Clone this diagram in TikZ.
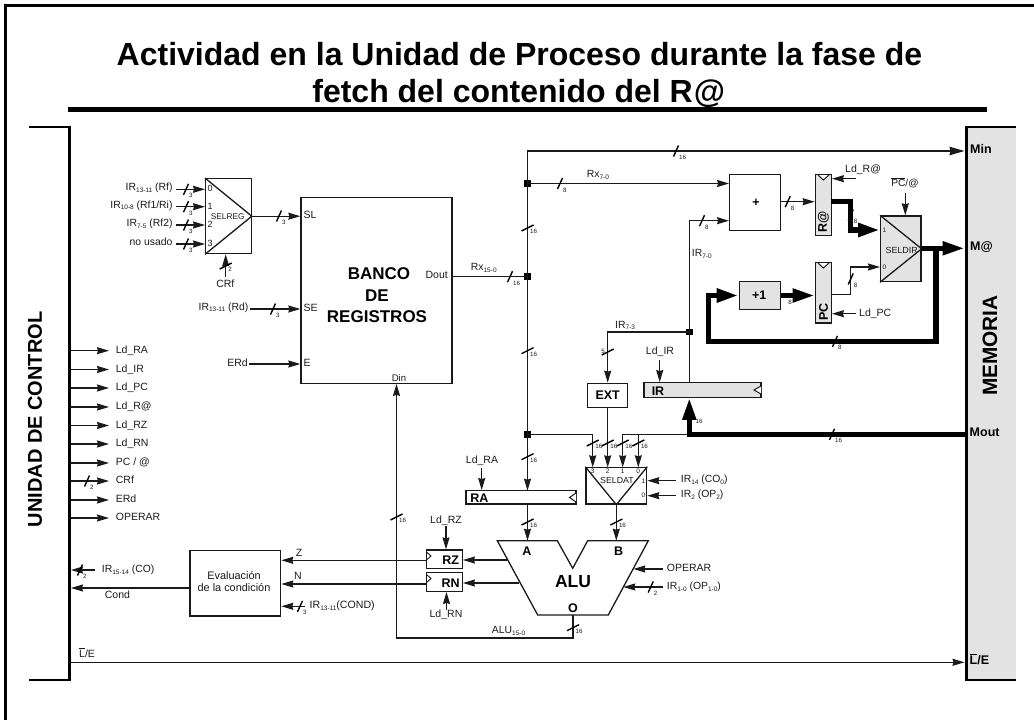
\documentclass[tikz,border=0pt]{standalone}
\usepackage{fontspec}
\setmainfont{Liberation Sans}
\usetikzlibrary{arrows.meta}
\newcommand{\fs}[1]{\fontsize{#1}{#1}\selectfont}
\newcommand{\subx}[1]{\raisebox{-1.6pt}{\fontsize{6.5}{6.5}\selectfont #1}}
\newcommand{\ovl}[1]{\setbox0\hbox{#1}\rlap{\raisebox{\dimexpr\ht0+1.2pt}{\rule{\wd0}{1pt}}}\box0}
\definecolor{ink}{HTML}{1A1A1A}
\definecolor{panel}{HTML}{E3E3E3}
\newcounter{slc}
\newcommand{\slashH}[3]{\stepcounter{slc}%
  \draw[slsh] ([shift={(-2.5,5.5)}]#1,#2) -- ([shift={(2.5,-5.5)}]#1,#2);
  \node[slab,anchor=mid west] (slab\theslc) at ([shift={(3,6)}]#1,#2) {#3};}
\newcommand{\slashV}[3]{\stepcounter{slc}%
  \draw[slsh] ([shift={(-6,3)}]#1,#2) -- ([shift={(6,-3)}]#1,#2);
  \node[slab,anchor=mid west] (slab\theslc) at ([shift={(2.5,3)}]#1,#2) {#3};}
\tikzset{
  sig/.style={draw=ink,line width=1.2pt,-{Stealth[length=12pt,width=7pt,inset=1pt]}},
  wire/.style={draw=ink,line width=1.2pt},
  fat/.style={draw=black,line width=5pt,line join=miter},
  fata/.style={draw=black,line width=5pt,line join=miter,-{Triangle[length=22pt,width=13pt]}},
  slsh/.style={draw=black,line width=1.4pt},
  slab/.style={inner sep=0pt,font=\fs{6.2},text=ink},
  lab/.style={inner sep=0pt,font=\fs{10.5},text=ink},
  blab/.style={inner sep=0pt,font=\bfseries\fs{12.5},text=black},
  tiny/.style={inner sep=0pt,font=\fs{7},text=ink},
  box/.style={draw=ink,line width=1.3pt,inner sep=0pt,fill=white},
  gbox/.style={box,fill=panel},
  dot/.style={fill=black,inner sep=0pt,minimum size=6.5pt},
  notch/.style={draw=ink,line width=1pt,fill=white},
}
\begin{document}
\begin{tikzpicture}[x=1pt,y=-1pt]
\useasboundingbox (0,0) rectangle (1034,720);
% frame
\coordinate (fa) at (5.5,720); \coordinate (fb) at (5.5,5.5); \coordinate (fc) at (1034,5.5);
\draw[black,line width=2.6pt] (fa) -- (fb) -- (fc);
% title
\node[inner sep=0pt,anchor=base,font=\bfseries\fs{32},text=black] (t1) at (519.5,65) {Actividad en la Unidad de Proceso durante la fase de};
\node[inner sep=0pt,anchor=base,font=\bfseries\fs{32},text=black] (t2) at (518.7,102.5) {fetch del contenido del R\kern1pt@};
\coordinate (ra) at (68,109); \coordinate (rb) at (987,109);
\draw[black,line width=5pt] (ra) -- (rb);
% side panels
\coordinate (ua) at (29,127); \coordinate (ub) at (69.7,127); \coordinate (uc) at (69.7,680); \coordinate (ud) at (29,680);
\draw[black,line width=2.8pt] (ua) -- (ub) -- (uc) -- (ud);
\node[inner sep=0pt,rotate=90,font=\bfseries\fs{20},text=black] (ucl) at (35,419.5) {UNIDAD DE CONTROL};
\coordinate (ma) at (1016,127); \coordinate (mb) at (966.5,127); \coordinate (mc) at (966.5,680); \coordinate (md) at (1016,680);
\fill[panel] (ma) -- (mb) -- (mc) -- (md) -- cycle;
\draw[black,line width=2.6pt] (ma) -- (mb) -- (mc) -- (md);
\node[inner sep=0pt,rotate=90,font=\bfseries\fs{20.8},text=black] (mem) at (990,345.5) {MEMORIA};
\node[blab,anchor=mid west] (lmin) at (970,151) {Min};
\node[blab,anchor=mid west] (lma) at (970,248.3) {M@};
\node[blab,anchor=mid west] (lmo) at (969.5,433.5) {Mout};
\node[blab,anchor=mid west] (lle) at (969.5,662) {\ovl{L}/E};
% left signal list
\foreach \n/\t/\y in {a/{Ld\_RA}/350.7,b/{Ld\_IR}/369.5,c/{Ld\_PC}/388,d/{Ld\_R@}/407,e/{Ld\_RZ}/425.5,f/{Ld\_RN}/444,g/{PC / @}/463,h/{CRf}/481,i/{ERd}/500,j/{OPERAR}/518}{
  \coordinate (s\n) at (71,\y); \coordinate (e\n) at (109,\y);
  \draw[sig] (s\n) -- (e\n);
  \node[lab,anchor=mid west] (l\n) at (115.7,\y) {\t};
}
\slashH{87}{481}{2}
% SELREG
\node[box,minimum width=45.5pt,minimum height=75pt] (selreg) at (228.4,216.2) {};
\draw[ink,line width=1.3pt] (selreg.north west) -- (selreg.east) -- (selreg.south west);
\node[tiny,font=\fs{8.3}] (lselreg) at (227.7,216.7) {SELREG};
\foreach \n/\y/\t in {0/189.3/{IR\subx{13-11} (Rf)},1/206.7/{IR\subx{10-8} (Rf1/Ri)},2/225/{IR\subx{7-5} (Rf2)},3/244/{no usado}}{
  \coordinate (in\n) at (176,\y);
  \draw[sig] (in\n) -- (in\n -| selreg.west);
  \node[lab,anchor=mid east,font=\fs{10.4}] (lin\n) at (172.7,\y-1) {\t};
  \node[tiny,font=\fs{9},anchor=mid west] (num\n) at (207.5,\y) {\n};
  \slashH{186}{\y}{3}
}
\coordinate (crf) at (225.7,277);
\draw[sig] (crf) -- (crf |- selreg.south);
\slashV{225.7}{266}{2}
\node[lab] (lcrf) at (225.3,284) {CRf};
% Banco
\node[box,minimum width=151pt,minimum height=185.5pt] (banco) at (376.5,290.5) {};
\node[inner sep=0pt,font=\bfseries\fs{17},text=black] (b1) at (379,274) {BANCO};
\node[inner sep=0pt,font=\bfseries\fs{17},text=black] (b2) at (377,295.5) {DE};
\node[inner sep=0pt,font=\bfseries\fs{17},text=black] (b3) at (377,316.7) {REGISTROS};
\node[lab,anchor=mid west] (lsl) at (303.5,216) {SL};
\node[lab,anchor=mid west] (lse) at (303.5,308.5) {SE};
\node[lab,anchor=mid west] (le) at (303.5,364) {E};
\node[lab,font=\fs{9.6}] (ldin) at (399,378) {Din};
\node[lab,anchor=mid east] (ldout) at (448,276) {Dout};
\draw[sig] (selreg.east) -- (selreg.east -| banco.west);
\slashH{279}{216}{3}
\coordinate (ird) at (250,309);
\draw[sig] (ird) -- (ird -| banco.west);
\slashH{273}{309}{3}
\node[lab,anchor=mid east,font=\fs{10.4}] (lird) at (248.5,307.5) {IR\subx{13-11} (Rd)};
\coordinate (erd) at (248.5,364);
\draw[sig] (erd) -- (erd -| banco.west);
\node[lab,anchor=mid east] (lerd) at (248,364) {ERd};
% bus
\node[dot] (j1) at (527.5,183.5) {};
\node[dot] (j2) at (527.5,276.7) {};
\node[dot] (j3) at (527.5,434.3) {};
\coordinate (minc) at (527.5,151); \coordinate (mine) at (964.5,151);
\coordinate (dout) at (452,276.7);
\draw[wire] (dout) -- (j2.center);
\slashH{510}{276.7}{16}
\node[lab,anchor=mid west,font=\fs{10.4}] (lrx) at (470.7,268) {Rx\subx{15-0}};
\draw[draw=ink,line width=1.2pt,-{Stealth[length=15pt,width=8.5pt,inset=1pt]}] (j3.center) -- (j2.center) -- (j1.center) -- (minc) -- (mine);
\slashH{676}{151}{16}
\slashV{527.5}{228}{16}
\slashV{527.5}{350.7}{16}
% adder
\node[box,minimum width=51pt,minimum height=56pt] (add) at (755.2,202.2) {};
\node[blab] (ladd) at (756,203) {+};
\coordinate (rx7) at (729.5,183.5);
\draw[sig] (j1.center) -- (rx7 -| add.west);
\slashH{560}{183.5}{8}
\node[lab,anchor=mid west,font=\fs{10.4}] (lrx7) at (586.7,175) {Rx\subx{7-0}};
% IR
\node[gbox,minimum width=117pt,minimum height=14.6pt] (ir) at (702.5,390) {};
\node[blab] (lir) at (658,390.7) {IR};
\coordinate (n1) at (761,386); \coordinate (n2) at (754,390); \coordinate (n3) at (761,394);
\draw[notch] (n1) -- (n2) -- (n3);
\node[dot] (j4) at (689.3,332) {};
\coordinate (irup) at (689.3,220.7);
\coordinate (irbot) at (689.3,382.7);
\draw[sig] (irbot) -- (j4.center) -- (irup) -- (irup -| add.west);
\slashH{702}{220.7}{8}
\node[lab,anchor=mid west,font=\fs{10.4}] (lir70) at (691.7,254) {IR\subx{7-0}};
\coordinate (cldir) at (659.7,360);
\draw[sig] (cldir) -- (cldir |- ir.north);
\node[lab] (lldir) at (660,352) {Ld\_IR};
% EXT
\node[box,minimum width=40pt,minimum height=24pt] (ext) at (607.7,395.3) {};
\node[blab] (lext) at (607.7,395.5) {EXT};
\coordinate (c73) at (607.7,332);
\draw[sig] (j4.center) -- (c73) -- (ext.north);
\node[lab,anchor=mid west,font=\fs{10.4}] (lir73) at (615,325.5) {IR\subx{7-3}};
\slashV{607.7}{352}{}
\node[slab] (l5) at (603,351) {5};
% RA
\node[box,minimum width=110pt,minimum height=13.4pt] (rareg) at (521,497.4) {};
\node[blab] (lra) at (479.3,498) {RA};
\coordinate (m1) at (576,493); \coordinate (m2) at (569.5,497.5); \coordinate (m3) at (576,502);
\draw[notch] (m1) -- (m2) -- (m3);
\coordinate (clra) at (481.7,468);
\draw[sig] (clra) -- (clra |- rareg.north);
\node[lab] (llra) at (482,461) {Ld\_RA};
\coordinate (rain) at (527.5,490.7);
\draw[sig] (j3.center) -- (rain);
\slashV{527.5}{456.7}{16}
% SELDAT
\node[box,minimum width=60.7pt,minimum height=36.7pt] (seldat) at (616.3,485.7) {};
\draw[ink,line width=1.3pt] (seldat.north west) -- (seldat.south) -- (seldat.north east);
\node[tiny,font=\fs{8.8}] (lseldat) at (617,480) {SELDAT};
\coordinate (d3t) at (592.7,434.3); \coordinate (d3b) at (592.7,467.3);
\coordinate (d1t) at (622.7,434.3); \coordinate (d1b) at (622.7,467.3);
\coordinate (d0t) at (638.3,434.3); \coordinate (d0b) at (638.3,467.3);
\coordinate (d2b) at (607.7,467.3);
\draw[sig] (j3.center) -- (d3t) -- (d3b);
\draw[sig] (ext.south) -- (d2b);
\draw[sig] (d1t) -- (d1b);
\draw[sig] (d0t) -- (d0b);
\foreach \x in {592.7,607.7,622.7,638.3}{\slashV{\x}{443}{16}}
\foreach \n/\x in {3/592.7,2/607.7,1/622.7,0/638.3}{\node[slab,font=\fs{6.5}] (sd\n) at (\x,471) {\n};}
\node[slab,font=\fs{6.5}] (sd1r) at (643.5,481) {1};
\node[slab,font=\fs{6.5}] (sd0r) at (643.5,495.7) {0};
\coordinate (co) at (675.7,480.7); \coordinate (op2) at (675.7,495.7);
\draw[sig] (co) -- (co -| seldat.east);
\draw[sig] (op2) -- (op2 -| seldat.east);
\node[lab,anchor=mid west,font=\fs{10.4}] (lco) at (680.7,480) {IR\subx{14} (CO\subx{0})};
\node[lab,anchor=mid west,font=\fs{10.4}] (lop) at (680.7,495) {IR\subx{2} (OP\subx{2})};
% Mout
\coordinate (mo) at (964.5,434.3); \coordinate (mc1) at (689.3,434.3);
\draw[wire] (mc1) -- (d1t);
\draw[fata] (mo) -- (mc1) -- (mc1 |- ir.south);
\slashH{832}{434.3}{16}
\node[slab] (l16b) at (699,421) {16};
% ALU
\coordinate (a1) at (497.3,540.7); \coordinate (a2) at (557.3,540.7); \coordinate (a3) at (572.7,568.3);
\coordinate (a4) at (587.7,540.7); \coordinate (a5) at (648.3,540.7); \coordinate (a6) at (608.3,615);
\coordinate (a7) at (537.7,615);
\draw[ink,line width=1.3pt,line join=miter] (a1) -- (a2) -- (a3) -- (a4) -- (a5) -- (a6) -- (a7) -- cycle;
\node[blab] (la) at (527,550.7) {A};
\node[blab] (lb) at (618.7,550.7) {B};
\node[inner sep=0pt,font=\bfseries\fs{17.5},text=black] (lalu) at (573,582) {ALU};
\node[blab] (lo) at (573,607.7) {O};
\coordinate (atop) at (527.5,540.7); \coordinate (btop) at (616.3,540.7);
\draw[sig] (rareg.south -| atop) -- (atop);
\draw[sig] (seldat.south) -- (btop);
\slashV{527.5}{522}{16}
\slashV{616.3}{522}{16}
% RZ RN
\node[box,minimum width=35.6pt,minimum height=18.3pt] (rz) at (444.5,559.2) {};
\node[box,minimum width=35.6pt,minimum height=18.6pt] (rn) at (444.5,582) {};
\node[blab] (lrz) at (450.7,560.3) {RZ};
\node[blab] (lrn) at (450.7,582.7) {RN};
\coordinate (z1) at (427,552.5); \coordinate (z2) at (431,556); \coordinate (z3) at (427,559.5);
\coordinate (y1) at (427,575); \coordinate (y2) at (431,578.5); \coordinate (y3) at (427,582);
\draw[ink,line width=.9pt] (z1) -- (z2) -- (z3);
\draw[ink,line width=.9pt] (y1) -- (y2) -- (y3);
\coordinate (az) at (506.7,560); \coordinate (an) at (519.3,583);
\draw[sig] (az) -- (az -| rz.east);
\draw[sig] (an) -- (an -| rn.east);
\coordinate (clz) at (446,526); \coordinate (cln) at (446.5,610);
\draw[sig] (clz) -- (clz |- rz.north);
\draw[sig] (cln) -- (cln |- rn.south);
\node[lab] (llrz) at (446,521) {Ld\_RZ};
\node[lab] (llrn) at (446,614.5) {Ld\_RN};
% operar
\coordinate (opin) at (662.7,569); \coordinate (opend) at (633.3,569);
\coordinate (oin) at (663,587); \coordinate (oend) at (623.3,587);
\draw[sig] (opin) -- (opend);
\draw[sig] (oin) -- (oend);
\slashH{650.7}{587}{2}
\node[lab,anchor=mid west] (lop1) at (666.7,569) {OPERAR};
\node[lab,anchor=mid west,font=\fs{10.4}] (lop2) at (666.7,587) {IR\subx{1-0} (OP\subx{1-0})};
% ALU output to Din
\coordinate (ob) at (573,615); \coordinate (oc) at (573,638); \coordinate (od) at (396.5,638);
\draw[sig] (ob) -- (oc) -- (od) -- (od |- banco.south);
\slashV{573}{627.7}{16}
\node[lab,anchor=mid west,font=\fs{10.4}] (lalu2) at (491.7,631) {ALU\subx{15-0}};
\slashV{396.5}{517}{16}
% Evaluacion
\node[box,minimum width=90.7pt,minimum height=65.7pt] (ev) at (235.3,583.2) {};
\node[lab,font=\fs{10.9}] (lev1) at (234,576) {Evaluación};
\node[lab,font=\fs{10.9}] (lev2) at (234,588) {de la condición};
\coordinate (rzl) at (426.7,560.3); \coordinate (rnl) at (426.7,584);
\draw[sig] (rzl) -- (rzl -| ev.east);
\draw[sig] (rnl) -- (rnl -| ev.east);
\node[lab] (lz) at (299,553) {Z};
\node[lab] (ln) at (298,576) {N};
\coordinate (cnd) at (305,606.3);
\draw[sig] (cnd) -- (cnd -| ev.east);
\slashH{300}{606.3}{3}
\node[lab,anchor=mid west,font=\fs{10.6}] (lcnd) at (309.5,606) {IR\subx{13-11}(COND)};
\coordinate (cout) at (71,588);
\draw[sig] (cout -| ev.west) -- (cout);
\node[lab,anchor=mid west] (lcond) at (104.7,595.5) {Cond};
\coordinate (co1) at (95,570); \coordinate (co2) at (71,570);
\draw[sig] (co1) -- (co2);
\slashH{80}{570}{2}
\node[lab,anchor=mid west,font=\fs{10.4}] (lco1) at (101.7,570) {IR\subx{15-14} (CO)};
% L/E
\coordinate (le1) at (71,662.3); \coordinate (le2) at (964.5,662.3);
\draw[sig] (le1) -- (le2);
\node[lab,anchor=mid west] (lle2) at (79,655) {\ovl{L}/E};
% R@
\node[gbox,minimum width=16pt,minimum height=61pt] (rat) at (823.3,204.8) {};
\node[blab,rotate=90] (lrat) at (823.5,222) {R@};
\coordinate (q1) at (818,175); \coordinate (q2) at (823.3,180); \coordinate (q3) at (829,175);
\draw[notch] (q1) -- (q2) -- (q3);
% PC
\node[gbox,minimum width=16pt,minimum height=60.7pt] (pc) at (823.3,292.7) {};
\node[blab,rotate=90] (lpc) at (823.5,312) {PC};
\coordinate (p1) at (818,263); \coordinate (p2) at (823.3,268); \coordinate (p3) at (829,263);
\draw[notch] (p1) -- (p2) -- (p3);
% adder to R@
\coordinate (ar) at (780.7,201.7);
\draw[sig] (ar) -- (ar -| rat.west);
\slashH{787.7}{201.7}{8}
\coordinate (clr) at (856,178.7);
\draw[sig] (clr) -- (clr -| rat.east);
\node[lab,anchor=mid west] (llrat) at (845,170) {Ld\_R@};
% SELDIR
\node[gbox,minimum width=40.3pt,minimum height=65.7pt] (seldir) at (900.8,248.8) {};
\draw[ink,line width=1.3pt] (seldir.north west) -- (seldir.east) -- (seldir.south west);
\node[tiny,font=\fs{8.9}] (lseldir) at (901.7,250) {SELDIR};
\node[slab,font=\fs{6.5}] (sr1) at (884.5,230) {1};
\node[slab,font=\fs{6.5}] (sr0) at (884.5,267) {0};
\coordinate (pca) at (905.3,192.7);
\draw[sig] (pca) -- (pca |- seldir.north);
\node[lab,font=\fs{10.2}] (lpca) at (905,183) {\ovl{PC}/@};
% R@ thick
\coordinate (r1) at (831.3,201.7); \coordinate (r2) at (850.7,201.7); \coordinate (r3) at (850.7,230);
\draw[fata,line width=5.5pt] (r1) -- (r2) -- (r3) -- (r3 -| seldir.west);
\slashH{850.7}{215}{8}
% +1
\node[gbox,minimum width=41.4pt,minimum height=27.6pt] (inc) at (760,295.5) {};
\node[blab] (linc) at (759.3,295.5) {+1};
\coordinate (i1) at (780.7,295.5);
\draw[fata] (i1) -- (i1 -| pc.west);
\node[slab] (l8i) at (790,302) {8};
% PC out
\coordinate (pc1) at (831.3,294.3); \coordinate (pc2) at (850.7,294.3); \coordinate (pc3) at (850.7,267);
\draw[sig] (pc1) -- (pc2) -- (pc3) -- (pc3 -| seldir.west);
\slashH{850.7}{279}{8}
\coordinate (clp) at (856,313.7);
\draw[sig] (clp) -- (clp -| pc.east);
\node[lab,anchor=mid west] (llpc) at (859,313.5) {Ld\_PC};
% SELDIR out
\coordinate (so) at (921,248.3); \coordinate (sm) at (964.5,248.3);
\draw[fata] (so) -- (sm);
\coordinate (f1) at (936,248.3); \coordinate (f2) at (936,341.3); \coordinate (f3) at (708.5,341.3); \coordinate (f4) at (708.5,295.5);
\draw[fata,line width=5.5pt] (f1) -- (f2) -- (f3) -- (f4) -- (f4 -| inc.west);
\slashH{835}{341.3}{8}
\end{tikzpicture}
\end{document}
